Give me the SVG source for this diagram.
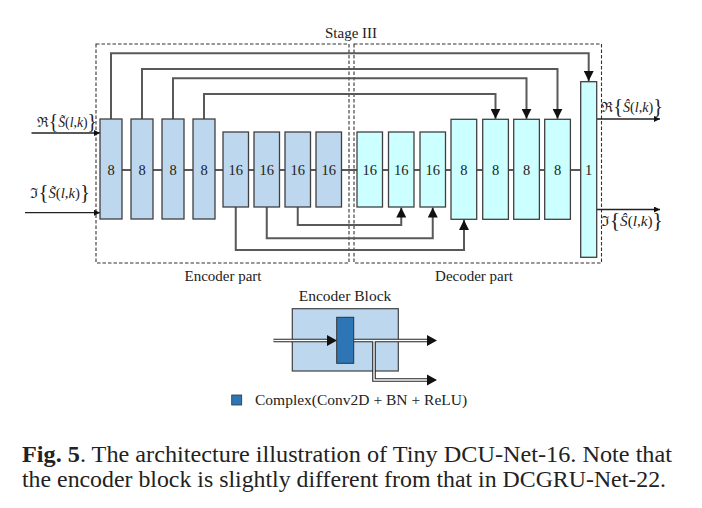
<svg xmlns="http://www.w3.org/2000/svg" width="702" height="508" viewBox="0 0 702 508">
<defs>
<style>
text{font-family:"Liberation Serif","Times New Roman",serif;fill:#222}
.dash{fill:none;stroke:#333;stroke-width:1.1;stroke-dasharray:3.5,2}
.enc{fill:#bdd7ee;stroke:#404040;stroke-width:1.3}
.dec{fill:#ccffff;stroke:#404040;stroke-width:1.3}
.lbl{font-size:14.5px;text-anchor:middle}
.skip{fill:none;stroke:#595959;stroke-width:2}
.io{fill:none;stroke:#222;stroke-width:1.3}
.math{font-size:14px}
.it{font-style:italic}
.br{font-size:20px}
</style>
<marker id="ah" viewBox="0 0 10 10" refX="10" refY="5" markerWidth="10" markerHeight="10" markerUnits="userSpaceOnUse" orient="auto"><path d="M0,0 L10,5 L0,10 z" fill="#111"/></marker>
<marker id="ahs" viewBox="0 0 10 10" refX="10" refY="5" markerWidth="7" markerHeight="6" markerUnits="userSpaceOnUse" orient="auto"><path d="M0,0 L10,5 L0,10 z" fill="#111"/></marker>
</defs>
<rect width="702" height="508" fill="#fff"/>

<g id="frames">
<rect class="dash" x="96" y="44" width="253" height="219"/>
<rect class="dash" x="354" y="44" width="247.5" height="219"/>
<text x="351" y="37.5" font-size="15" text-anchor="middle">Stage III</text>
<text x="223" y="281" font-size="15" text-anchor="middle">Encoder part</text>
<text x="474" y="281" font-size="15" text-anchor="middle">Decoder part</text>
</g>

<g id="connectors">
<path class="skip" d="M122,170H131 M153,170H162 M184,170H193 M215,170H223 M248.5,170H254 M279.5,170H285 M310.5,170H316 M341.5,170H357 M382.5,170H388.5 M414,170H420 M445.5,170H451 M476.7,170H482.7 M508.4,170H513.7 M539.4,170H544.7 M570.4,170H580.7"/>
<path class="skip" d="M111,119V53.3H588.7V81" marker-end="url(#ah)"/>
<path class="skip" d="M142,119V69H557.5V118.7" marker-end="url(#ah)"/>
<path class="skip" d="M173,119V78.3H526.5V118.7" marker-end="url(#ah)"/>
<path class="skip" d="M204,119V94H495.5V118.7" marker-end="url(#ah)"/>
<path class="skip" d="M297.75,207V225H401.25V207.6" marker-end="url(#ah)"/>
<path class="skip" d="M266.75,207V238.3H432.75V207.6" marker-end="url(#ah)"/>
<path class="skip" d="M235.75,207V250H464V219.9" marker-end="url(#ah)"/>
<path class="io" d="M31.5,133H100" marker-end="url(#ahs)"/>
<path class="io" d="M25,212.7H100" marker-end="url(#ahs)"/>
<path class="io" d="M596.7,119H660" marker-end="url(#ahs)"/>
<path class="io" d="M596.7,209.5H660" marker-end="url(#ahs)"/>
</g>

<g id="in-labels">
<text class="math" x="37" y="127" textLength="60" lengthAdjust="spacingAndGlyphs"><tspan>ℜ</tspan><tspan class="br" dy="1">{</tspan><tspan class="it" dy="-1">S̃</tspan>(<tspan class="it">l</tspan>,<tspan class="it">k</tspan>)<tspan class="br" dy="1">}</tspan></text>
<text class="math" x="30" y="198" textLength="60" lengthAdjust="spacingAndGlyphs"><tspan>ℑ</tspan><tspan class="br" dy="1">{</tspan><tspan class="it" dy="-1">S̃</tspan>(<tspan class="it">l</tspan>,<tspan class="it">k</tspan>)<tspan class="br" dy="1">}</tspan></text>
<text class="math" x="601" y="112" textLength="62" lengthAdjust="spacingAndGlyphs"><tspan>ℜ</tspan><tspan class="br" dy="1">{</tspan><tspan class="it" dy="-1">Ŝ</tspan>(<tspan class="it">l</tspan>,<tspan class="it">k</tspan>)<tspan class="br" dy="1">}</tspan></text>
<text class="math" x="601" y="226" textLength="62" lengthAdjust="spacingAndGlyphs"><tspan>ℑ</tspan><tspan class="br" dy="1">{</tspan><tspan class="it" dy="-1">Ŝ</tspan>(<tspan class="it">l</tspan>,<tspan class="it">k</tspan>)<tspan class="br" dy="1">}</tspan></text>
</g>

<g id="enc1"><rect class="enc" x="100" y="119" width="22" height="100"/><text class="lbl" x="111" y="175">8</text></g>
<g id="enc2"><rect class="enc" x="131" y="119" width="22" height="100"/><text class="lbl" x="142" y="175">8</text></g>
<g id="enc3"><rect class="enc" x="162" y="119" width="22" height="100"/><text class="lbl" x="173" y="175">8</text></g>
<g id="enc4"><rect class="enc" x="193" y="119" width="22" height="100"/><text class="lbl" x="204" y="175">8</text></g>
<g id="enc5"><rect class="enc" x="223" y="132" width="25.5" height="75"/><text class="lbl" x="235.75" y="175">16</text></g>
<g id="enc6"><rect class="enc" x="254" y="132" width="25.5" height="75"/><text class="lbl" x="266.75" y="175">16</text></g>
<g id="enc7"><rect class="enc" x="285" y="132" width="25.5" height="75"/><text class="lbl" x="297.75" y="175">16</text></g>
<g id="enc8"><rect class="enc" x="316" y="132" width="25.5" height="75"/><text class="lbl" x="328.75" y="175">16</text></g>

<g id="dec1"><rect class="dec" x="357" y="132" width="25.5" height="75"/><text class="lbl" x="369.75" y="175">16</text></g>
<g id="dec2"><rect class="dec" x="388.5" y="132" width="25.5" height="75"/><text class="lbl" x="401.25" y="175">16</text></g>
<g id="dec3"><rect class="dec" x="420" y="132" width="25.5" height="75"/><text class="lbl" x="432.75" y="175">16</text></g>
<g id="dec4"><rect class="dec" x="451" y="119.3" width="25.7" height="100"/><text class="lbl" x="463.85" y="175">8</text></g>
<g id="dec5"><rect class="dec" x="482.7" y="119.3" width="25.7" height="100"/><text class="lbl" x="495.55" y="175">8</text></g>
<g id="dec6"><rect class="dec" x="513.7" y="119.3" width="25.7" height="100"/><text class="lbl" x="526.55" y="175">8</text></g>
<g id="dec7"><rect class="dec" x="544.7" y="119.3" width="25.7" height="100"/><text class="lbl" x="557.55" y="175">8</text></g>
<g id="out"><rect class="dec" x="580.7" y="81.7" width="16" height="175.6"/><text class="lbl" x="588.7" y="175">1</text></g>

<g id="encoder-block">
<text x="345" y="301" font-size="15.5" text-anchor="middle">Encoder Block</text>
<rect x="292.3" y="308.7" width="106" height="62.3" fill="#bdd7ee" stroke="#404040" stroke-width="1.2"/>
<path d="M273.5,340.5H330 M354,340.5H427 M374,340.5V380H427" fill="none" stroke="#222" stroke-width="3.6"/>
<path d="M273.5,340.5H330 M354,340.5H427 M374,340.5V380H427" fill="none" stroke="#fff" stroke-width="1.4"/>
<path d="M327,335L337,340.5L327,346z M427,335L437,340.5L427,346z M427,374.5L437,380L427,385.5z" fill="#111"/>
<rect x="336.7" y="317.3" width="17" height="46" fill="#2e75b6" stroke="#333" stroke-width="1"/>
</g>

<g id="legend">
<rect x="231.7" y="395" width="10" height="10" fill="#2e75b6" stroke="#333" stroke-width="0.8"/>
<text x="255" y="405" font-size="15.5">Complex(Conv2D + BN + ReLU)</text>
</g>

<g id="caption">
<text x="22" y="462" font-size="23.5" textLength="650" lengthAdjust="spacingAndGlyphs"><tspan font-weight="bold">Fig. 5</tspan>. The architecture illustration of Tiny DCU-Net-16. Note that</text>
<text x="22" y="487" font-size="23.5" textLength="644" lengthAdjust="spacingAndGlyphs">the encoder block is slightly different from that in DCGRU-Net-22.</text>
</g>
</svg>
